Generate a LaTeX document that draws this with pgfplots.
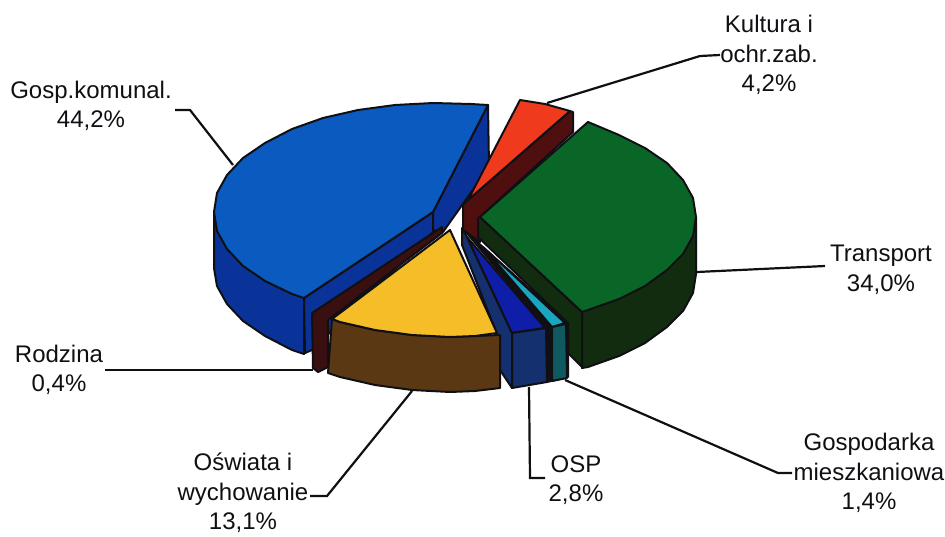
\documentclass[border=0pt]{standalone}
\usepackage{fontspec}
\setmainfont{Liberation Sans}
\usepackage{pgfplots}
\pgfplotsset{compat=1.18}
\definecolor{bluetop}{HTML}{0A5AC0}
\definecolor{blueside}{HTML}{0A3399}
\definecolor{yel}{HTML}{F5BE28}
\definecolor{brn}{HTML}{5A3814}
\definecolor{grn}{HTML}{0A6626}
\definecolor{grnside}{HTML}{122C10}
\definecolor{redtop}{HTML}{F03A1E}
\definecolor{redside}{HTML}{4E0F0E}
\definecolor{sliver}{HTML}{3A0F0F}
\definecolor{osptop}{HTML}{0E1EA8}
\definecolor{ospside}{HTML}{15306E}
\definecolor{cyn}{HTML}{1BA6C0}
\definecolor{tealf}{HTML}{0E5A60}
\definecolor{ink}{HTML}{101014}
\pgfplotsset{patch/.style={fill=#1,draw=ink,line width=2pt,line join=round,mark=none},
 lead/.style={draw=ink,line width=2.2pt,mark=none}}
\tikzset{lbl/.style={font=\fontsize{24}{29.5}\selectfont,text=ink,align=center,inner sep=0pt}}
\begin{document}
\begin{tikzpicture}
\useasboundingbox (0,0) rectangle (945pt,536pt);
\begin{axis}[at={(0,0)},anchor=south west,width=945pt,height=536pt,scale only axis,xmin=0,xmax=945,ymin=0,ymax=536,y dir=reverse,hide axis,clip=false]
% leaders
\addplot[lead] coordinates {(175,110)(190,110)(233,165)};
\addplot[lead] coordinates {(720,55)(700,56)(547,103)};
\addplot[lead] coordinates {(697,272)(825,266)};
\addplot[lead] coordinates {(105,370)(313,370)};
\addplot[lead] coordinates {(310,496)(327,496)(412,391)};
\addplot[lead] coordinates {(545,478)(530,478)(529,387)};
\addplot[lead] coordinates {(792,473)(778,473)(565,380)};
% blue
\addplot[patch=blueside] coordinates {(214,212)(214,268)(217,286)(227,304)(243,321)(265,336)(292,350)(304,354)(304,298)} --cycle;
\addplot[patch=blueside] coordinates {(304,298)(433,212)(433,232)(312,350)(305,353)} --cycle;
\addplot[patch=blueside] coordinates {(433,212)(488,105)(489,167)(443,232)(433,230)} --cycle;
\addplot[patch=bluetop] coordinates {(488,105)(471,104)(433,103)(395,105)(358,110)(323,118)(292,129)(265,143)(243,158)(227,175)(217,193)(214,212)(217,231)(227,249)(243,266)(265,281)(292,294)(304,298)(433,212)} --cycle;
% sliver
\addplot[patch=sliver] coordinates {(312,313)(442,227)(442,233)(328,320)(328,367)(318,372)(313,368)} --cycle;
% red
\addplot[patch=redside] coordinates {(570,111)(573,112)(573,132)(480,217)(480,242)(463,230)(463,205)(468,200)} --cycle;
\addplot[patch=redtop] coordinates {(520,100)(545,104)(570,111)(468,200)} --cycle;
% OSP
\addplot[patch=ink] coordinates {(466,232)(568,323)(568,377)(547,382)(546,328)} --cycle;
\addplot[patch=ospside] coordinates {(462,228)(462,245)(498,337)(500,370)(512,388)(512,333)(467,237)} --cycle;
\addplot[patch=osptop] coordinates {(467,237)(545,328)(512,333)} --cycle;
\addplot[patch=ospside] coordinates {(512,333)(546,328)(547,382)(512,388)} --cycle;
% housing
\addplot[patch=cyn] coordinates {(483,247)(565,323)(552,327)} --cycle;
\addplot[patch=tealf] coordinates {(552,327)(566,324)(567,378)(552,381)} --cycle;
% yellow/brown
\addplot[patch=brn] coordinates {(332,319)(328,373)(340,377)(375,385)(412,390)(450,392)(475,391)(500,388)(500,335)(450,337)(412,335)(375,330)(340,322)} --cycle;
\addplot[patch=yel] coordinates {(450,230)(497,333)(475,336)(450,337)(412,335)(375,330)(340,322)(332,319)} --cycle;
% green
\addplot[patch=grnside] coordinates {(480,217)(582,312)(582,367)(568,353)(568,323)(478,237)(478,218)} --cycle;
\addplot[patch=grnside] coordinates {(696,217)(696,274)(693,293)(683,311)(667,327)(645,343)(619,356)(588,367)(582,368)(582,312)} --cycle;
\addplot[patch=grn] coordinates {(480,217)(588,122)(619,135)(645,148)(667,163)(683,180)(693,198)(696,217)(693,236)(683,254)(667,270)(645,286)(619,299)(588,310)(582,312)} --cycle;
% labels
\node[lbl] at (axis cs:91,106) {Gosp.komunal.\\44,2\%};
\node[lbl] at (axis cs:769,55) {Kultura i\\ochr.zab.\\4,2\%};
\node[lbl] at (axis cs:881,270) {Transport\\34,0\%};
\node[lbl] at (axis cs:59,370) {Rodzina\\0,4\%};
\node[lbl] at (axis cs:243,493) {Oświata i\\wychowanie\\13,1\%};
\node[lbl] at (axis cs:576,480) {OSP\\2,8\%};
\node[lbl] at (axis cs:869,473) {Gospodarka\\mieszkaniowa\\1,4\%};
\end{axis}
\end{tikzpicture}
\end{document}
